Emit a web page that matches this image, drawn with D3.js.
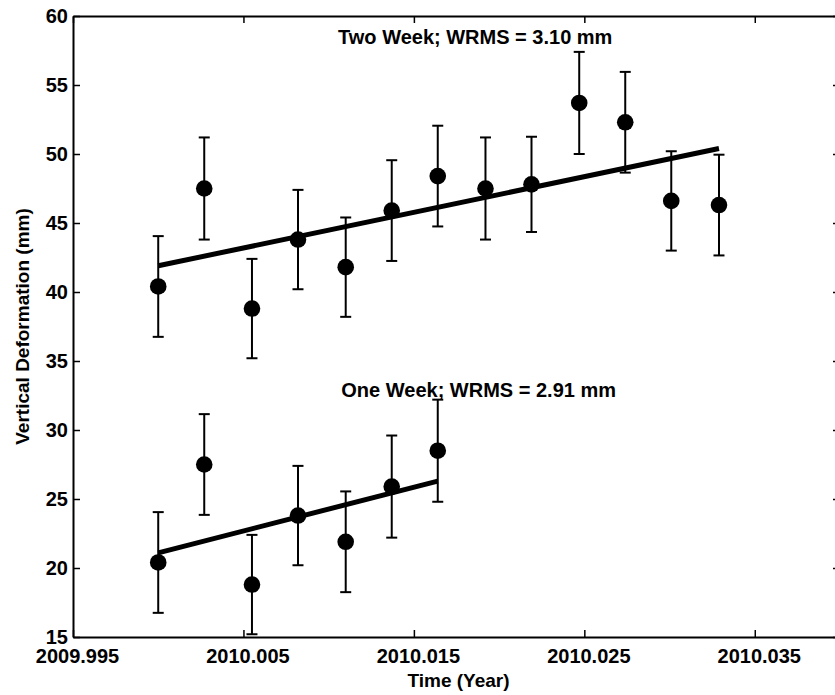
<!DOCTYPE html>
<html>
<head>
<meta charset="utf-8">
<script src="https://cdn.jsdelivr.net/npm/d3@7"></script>
<style>
  html, body { margin: 0; padding: 0; background: #fff; }
  svg { display: block; }
  text { font-family: "Liberation Sans", Arial, Helvetica, sans-serif; font-weight: bold; fill: #000; }
</style>
</head>
<body>
<div id="chart"></div>
<script>
// decimal year of each daily solution
const times = [2010.0000, 2010.0027, 2010.0055, 2010.0082, 2010.0110, 2010.0137, 2010.0164,
               2010.0192, 2010.0219, 2010.0247, 2010.0274, 2010.0301, 2010.0329];

// two week series (mm) and 1-sigma error
const twoWeekValues = [40.4, 47.5, 38.8, 43.8, 41.8, 45.9, 48.4, 47.5, 47.8, 53.7, 52.3, 46.6, 46.3];
const twoWeekErrors = [3.65, 3.7, 3.6, 3.6, 3.6, 3.65, 3.65, 3.7, 3.45, 3.7, 3.65, 3.6, 3.65];
const twoWeekFit = [41.9, 50.4];        // fitted line at first / last epoch
const twoWeekLabel = 'Two Week; WRMS = 3.10 mm';

// one week series (first 7 epochs)
const oneWeekValues = [20.4, 27.5, 18.8, 23.8, 21.9, 25.9, 28.5];
const oneWeekErrors = [3.65, 3.65, 3.6, 3.6, 3.65, 3.7, 3.7];
const oneWeekFit = [21.1, 26.3];
const oneWeekLabel = 'One Week; WRMS = 2.91 mm';

const xTicks = [2009.995, 2010.005, 2010.015, 2010.025, 2010.035];
const yTicks = [15, 20, 25, 30, 35, 40, 45, 50, 55, 60];
const xDomain = [2009.995, 2010.04];
const yDomain = [15, 60];

const width = 835, height = 695;
const margin = {left: 73, right: -5, top: 16, bottom: 58};

const svg = d3.select('#chart').append('svg')
  .attr('width', width)
  .attr('height', height);

const x = d3.scaleLinear().domain(xDomain).range([margin.left, width - margin.right]);
const y = d3.scaleLinear().domain(yDomain).range([height - margin.bottom, margin.top]);

svg.append('clipPath').attr('id', 'plot-clip')
  .append('rect')
  .attr('x', x.range()[0]).attr('y', y.range()[1])
  .attr('width', x.range()[1] - x.range()[0])
  .attr('height', y.range()[0] - y.range()[1]);

const plot = svg.append('g').attr('clip-path', 'url(#plot-clip)');

function drawSeries(values, errors, fit, label, labelPos) {
  const pts = values.map((v, i) => ({t: times[i], v: v, e: errors[i]}));
  const capHalf = 5.5;

  const g = plot.append('g');

  // error bars
  const bars = g.selectAll('g.err').data(pts).join('g').attr('class', 'err')
    .attr('stroke', '#000').attr('stroke-width', 2);
  bars.append('line')
    .attr('x1', d => x(d.t)).attr('x2', d => x(d.t))
    .attr('y1', d => y(d.v - d.e)).attr('y2', d => y(d.v + d.e));
  bars.append('line')
    .attr('x1', d => x(d.t) - capHalf).attr('x2', d => x(d.t) + capHalf)
    .attr('y1', d => y(d.v + d.e)).attr('y2', d => y(d.v + d.e));
  bars.append('line')
    .attr('x1', d => x(d.t) - capHalf).attr('x2', d => x(d.t) + capHalf)
    .attr('y1', d => y(d.v - d.e)).attr('y2', d => y(d.v - d.e));

  // markers
  g.selectAll('circle').data(pts).join('circle')
    .attr('cx', d => x(d.t)).attr('cy', d => y(d.v))
    .attr('r', 8.3)
    .attr('fill', '#000');

  // linear fit
  const last = pts[pts.length - 1].t;
  g.append('path')
    .datum([[times[0], fit[0]], [last, fit[1]]])
    .attr('fill', 'none')
    .attr('stroke', '#000')
    .attr('stroke-width', 5)
    .attr('d', d3.line().x(d => x(d[0])).y(d => y(d[1])));

  svg.append('text')
    .attr('x', x(labelPos[0])).attr('y', y(labelPos[1]))
    .attr('text-anchor', 'middle')
    .attr('font-size', '20px')
    .text(label);
}

drawSeries(twoWeekValues, twoWeekErrors, twoWeekFit, twoWeekLabel, [2010.0186, 57.97]);
drawSeries(oneWeekValues, oneWeekErrors, oneWeekFit, oneWeekLabel, [2010.0188, 32.4]);

// axes, ticks pointing inward on all four sides
const tickLen = 7;

const xAxis = svg.append('g')
  .attr('transform', `translate(0,${y.range()[0]})`)
  .call(d3.axisBottom(x).tickValues(xTicks).tickFormat(d3.format('.3f')).tickSize(-tickLen).tickSizeOuter(0));
xAxis.selectAll('text').attr('x', 4).attr('y', 26).attr('dy', null).attr('font-size', '20px');

svg.append('g')
  .attr('transform', `translate(0,${y.range()[1]})`)
  .call(d3.axisTop(x).tickValues(xTicks).tickFormat('').tickSize(-tickLen).tickSizeOuter(0));

const yAxis = svg.append('g')
  .attr('transform', `translate(${x.range()[0]},0)`)
  .call(d3.axisLeft(y).tickValues(yTicks).tickSize(-tickLen).tickSizeOuter(0).tickPadding(5));
yAxis.selectAll('text').attr('font-size', '20px').attr('dy', '0.33em');

svg.append('g')
  .attr('transform', `translate(${x.range()[1]},0)`)
  .call(d3.axisRight(y).tickValues(yTicks).tickFormat('').tickSize(-tickLen).tickSizeOuter(0));

svg.selectAll('.domain').attr('stroke', '#000').attr('stroke-width', 2);
svg.selectAll('.tick line').attr('stroke', '#000').attr('stroke-width', 1.5);
svg.selectAll('.tick text').attr('font-family', null).style('font-weight', 'bold').attr('fill', '#000');

// axis titles
svg.append('text')
  .attr('x', (x.range()[0] + x.range()[1]) / 2 + 2)
  .attr('y', 687)
  .attr('text-anchor', 'middle')
  .attr('font-size', '19px')
  .text('Time (Year)');

svg.append('text')
  .attr('transform', `translate(29,${(y.range()[0] + y.range()[1]) / 2}) rotate(-90)`)
  .attr('text-anchor', 'middle')
  .attr('font-size', '19px')
  .text('Vertical Deformation (mm)');
</script>
</body>
</html>
